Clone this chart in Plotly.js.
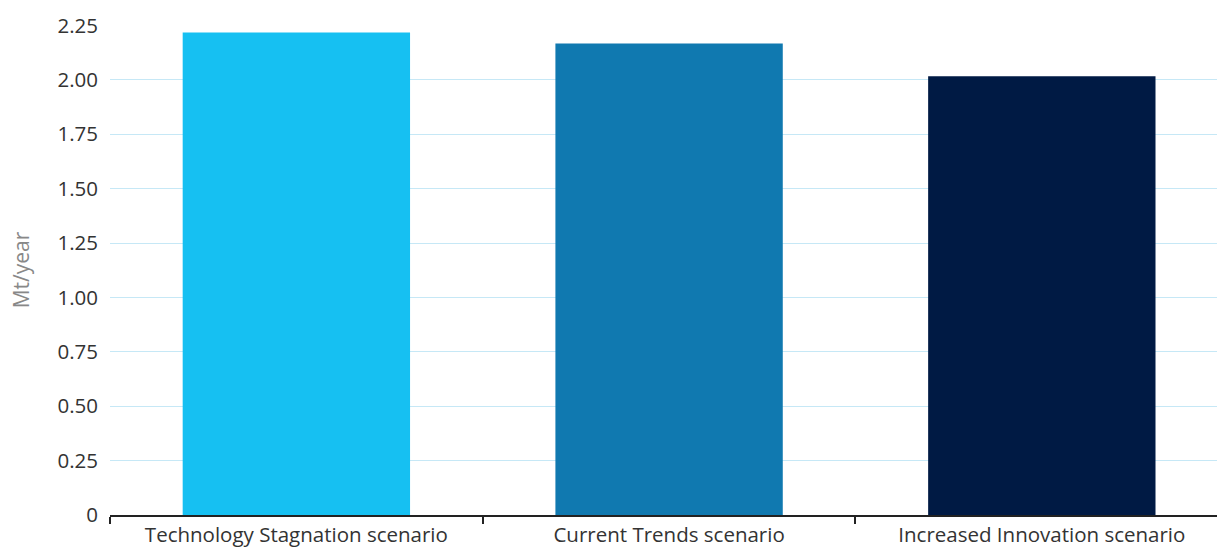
<!DOCTYPE html>
<html>
<head>
<meta charset="utf-8">
<script src="https://cdn.plot.ly/plotly-3.0.1.min.js"></script>
<style>html,body{margin:0;padding:0;background:#fff;}#chart{width:1217px;height:550px;}</style>
</head>
<body>
<div id="chart"></div>
<script>
const categories = ["Technology Stagnation scenario", "Current Trends scenario", "Increased Innovation scenario"];
const values = [2.218, 2.167, 2.016];
const barColors = ["#16C0F2", "#1079B0", "#001A44"];
const yTickVals = [0, 0.25, 0.5, 0.75, 1, 1.25, 1.5, 1.75, 2, 2.25];
const yTickText = ["0", "0.25", "0.50", "0.75", "1.00", "1.25", "1.50", "1.75", "2.00", "2.25"];
const yTitle = "Mt/year";

const trace = {
  type: "bar",
  x: categories,
  y: values,
  marker: {color: barColors},
  hoverinfo: "x+y"
};

const layout = {
  width: 1217,
  height: 550,
  margin: {l: 110, r: 0, t: 25, b: 35},
  paper_bgcolor: "#fff",
  plot_bgcolor: "#fff",
  bargap: 0.39,
  showlegend: false,
  font: {family: "Open Sans, sans-serif", color: "#333"},
  xaxis: {
    type: "category",
    range: [-0.5, 2.47],
    showgrid: false,
    showline: true,
    linecolor: "#222",
    linewidth: 2,
    ticks: "outside",
    tickson: "boundaries",
    ticklen: 7,
    tickwidth: 2,
    tickcolor: "#222",
    ticklabelstandoff: 0,
    tickfont: {size: 20.5, color: "#333"},
    zeroline: false
  },
  yaxis: {
    range: [0, 2.252],
    tickvals: yTickVals,
    ticktext: yTickText,
    showgrid: true,
    gridcolor: "#c6e8f6",
    gridwidth: 1,
    zeroline: false,
    showline: false,
    ticks: "",
    ticklabelstandoff: 11,
    tickfont: {size: 20.5, color: "#333"},
    title: {text: yTitle, font: {size: 21, color: "#888"}, standoff: 22}
  }
};

Plotly.newPlot("chart", [trace], layout, {displayModeBar: false, staticPlot: true});
</script>
</body>
</html>
